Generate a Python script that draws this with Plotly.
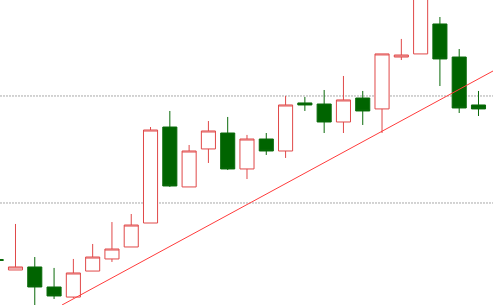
import plotly.graph_objects as go

idx = list(range(26))
opens  = [104.72, 103.74, 104.02, 102.15, 101.21, 103.64, 104.77, 105.89, 108.13, 117.10,
          111.50, 115.05, 116.54, 113.18, 115.98, 114.86, 119.35, 119.25, 117.57, 119.81,
          118.79, 123.64, 123.93, 126.73, 123.64, 119.16]
highs  = [104.77, 108.04, 104.95, 103.93, 104.77, 106.17, 108.22, 108.97, 117.10, 118.60,
          115.42, 117.66, 118.04, 116.36, 116.54, 120.00, 119.91, 120.56, 121.87, 120.47,
          123.93, 125.33, 132.24, 127.38, 124.39, 120.47]
lows   = [104.58, 103.74, 100.19, 101.03, 101.12, 103.64, 104.49, 105.89, 108.13, 111.50,
          111.50, 113.74, 113.08, 112.24, 114.49, 114.21, 118.60, 116.54, 116.54, 117.29,
          116.54, 123.36, 123.93, 120.93, 118.41, 118.13]
closes = [104.63, 104.02, 102.15, 101.31, 103.46, 104.95, 105.70, 107.94, 116.82, 111.59,
          114.86, 116.73, 113.18, 115.98, 114.86, 119.16, 119.16, 117.57, 119.63, 118.60,
          123.93, 123.83, 131.31, 123.46, 118.88, 118.79]

levels = [120.0, 110.0]
trend_x = [3.411, 25.752]
trend_y = [100.467, 122.336]

fig = go.Figure()
fig.add_trace(go.Candlestick(
    x=idx, open=opens, high=highs, low=lows, close=closes,
    increasing=dict(line=dict(color="#e04848", width=1), fillcolor="#ffffff"),
    decreasing=dict(line=dict(color="#0a6a0a", width=1), fillcolor="#006400"),
    whiskerwidth=0, hoverinfo="skip", showlegend=False,
))
fig.add_trace(go.Scatter(
    x=trend_x, y=trend_y, mode="lines",
    line=dict(color="#ff3b3b", width=1), hoverinfo="skip", showlegend=False,
))
for lv in levels:
    fig.add_hline(y=lv, line=dict(color="#a8a8a8", width=1, dash="2px,1px"), layer="below")

fig.update_layout(
    width=493, height=305,
    margin=dict(l=0, r=0, t=0, b=0),
    paper_bgcolor="white", plot_bgcolor="white",
    boxgap=0.27, boxgroupgap=0,
    xaxis=dict(range=[0.197, 25.752], visible=False, rangeslider=dict(visible=False),
               showgrid=False, zeroline=False),
    yaxis=dict(range=[100.467, 128.97], visible=False, showgrid=False, zeroline=False),
    hovermode=False,
)
fig.write_html("out.html", config={"displayModeBar": False})
